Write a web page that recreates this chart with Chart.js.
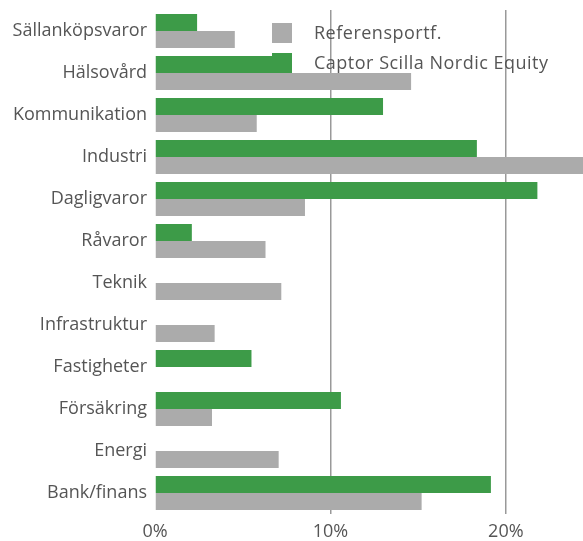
<!DOCTYPE html>
<html>
<head>
<meta charset="utf-8">
<script src="https://cdn.jsdelivr.net/npm/chart.js@4.4.0/dist/chart.umd.min.js"></script>
<style>
  html, body { margin: 0; padding: 0; background: #fff; }
  #wrap { width: 583px; height: 541px; position: relative; }
</style>
</head>
<body>
<div id="wrap"><canvas id="myChart"></canvas></div>
<script>
// categories (top to bottom)
const sectors = ['Sällanköpsvaror', 'Hälsovård', 'Kommunikation', 'Industri', 'Dagligvaror', 'Råvaror',
  'Teknik', 'Infrastruktur', 'Fastigheter', 'Försäkring', 'Energi', 'Bank/finans'];
// fund weights, %
const captorValues = [2.4, 7.8, 13.0, 18.35, 21.8, 2.1, 0, 0, 5.5, 10.6, 0, 19.15];
// benchmark weights, %
const referensValues = [4.55, 14.6, 5.8, 25.0, 8.55, 6.3, 7.2, 3.4, 0, 3.25, 7.05, 15.2];
const xTicks = [0, 10, 20];

const fontFamily = '"Open Sans", sans-serif';
const textColor = '#555555';

// legend drawn inside the plot, benchmark listed first
const innerLegend = {
  id: 'innerLegend',
  afterDatasetsDraw(chart) {
    const ctx = chart.ctx;
    const items = chart.data.datasets.slice().reverse();
    ctx.save();
    ctx.font = '18px ' + fontFamily;
    ctx.letterSpacing = '0.5px';
    ctx.textBaseline = 'middle';
    items.forEach((ds, i) => {
      const y = 33 + i * 30;
      ctx.fillStyle = ds.backgroundColor;
      ctx.fillRect(272, y - 10, 20, 20);
      ctx.fillStyle = textColor;
      ctx.fillText(ds.label, 314, y + 1);
    });
    ctx.restore();
  }
};

const ctx = document.getElementById('myChart').getContext('2d');
new Chart(ctx, {
  type: 'bar',
  data: {
    labels: sectors,
    datasets: [
      {
        label: 'Captor Scilla Nordic Equity',
        data: captorValues,
        backgroundColor: '#3d9b48',
        categoryPercentage: 0.81,
        barPercentage: 1.0
      },
      {
        label: 'Referensportf.',
        data: referensValues,
        backgroundColor: '#ababab',
        categoryPercentage: 0.81,
        barPercentage: 1.0
      }
    ]
  },
  options: {
    indexAxis: 'y',
    responsive: true,
    maintainAspectRatio: false,
    animation: false,
    layout: { padding: { top: 10, right: 0, left: 0, bottom: 0 } },
    scales: {
      x: {
        min: 0,
        max: 24.4,
        afterBuildTicks: axis => { axis.ticks = xTicks.map(v => ({ value: v })); },
        afterFit: axis => { axis.height = 27; },
        grid: {
          color: c => (c.tick && c.tick.value === 0 ? 'rgba(0,0,0,0)' : '#999999'),
          lineWidth: 1.5,
          drawTicks: false
        },
        border: { display: false },
        ticks: {
          color: textColor,
          font: { family: fontFamily, size: 18 },
          padding: 7,
          maxRotation: 0,
          callback: v => v + '%'
        }
      },
      y: {
        afterFit: axis => {
          axis.width = 155;
          axis.paddingTop = 0;
          axis.paddingBottom = 0;
        },
        grid: { display: false, drawTicks: false },
        border: { display: false },
        ticks: {
          color: textColor,
          font: { family: fontFamily, size: 18 },
          padding: 8
        }
      }
    },
    plugins: {
      legend: { display: false },
      tooltip: { enabled: false }
    }
  },
  plugins: [innerLegend]
});
</script>
</body>
</html>
